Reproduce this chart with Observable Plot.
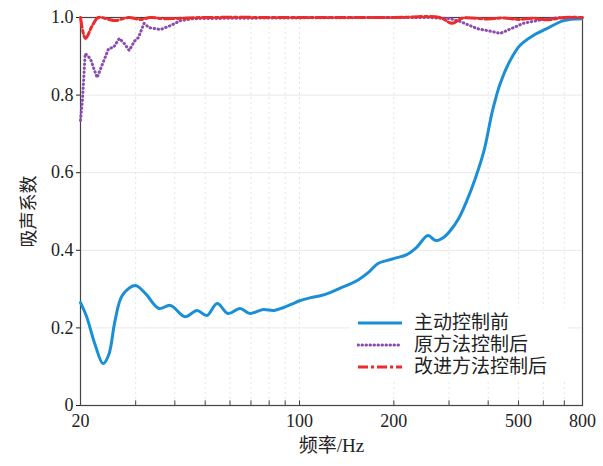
<!DOCTYPE html>
<html><head><meta charset="utf-8">
<script src="https://cdn.jsdelivr.net/npm/d3@7"></script>
<script src="https://cdn.jsdelivr.net/npm/@observablehq/plot@0.6"></script>
<style>
body{margin:0;background:#fff;}
#wrap{position:relative;width:603px;height:466px;}
#legend{position:absolute;left:350px;top:308px;width:218px;background:#fff;padding:4px 0;font-family:"Liberation Sans","Noto Sans CJK SC",sans-serif;font-size:19px;line-height:22px;color:#222;}
.row{display:flex;align-items:center;height:22px;line-height:22px;}
.row svg{margin-left:7px;margin-right:11px;}
.row span{display:block;height:22px;line-height:22px;}
</style></head>
<body><div id="wrap"></div>
<script>
// 主动控制前
const blueF = [20, 20.9, 22.3, 23.6, 24.6, 25.8, 27.2, 29.9, 32.2, 35.6, 38.7, 43.1, 47.1, 50.6, 54.6, 59.2, 64.6, 69.5, 76.1, 82.9, 88.6, 95, 100, 108.6, 116.5, 125.2, 134.3, 144.1, 154.7, 166, 178, 191, 205, 220, 236, 257, 272, 288, 303, 322, 342, 362, 388, 413, 437, 470, 505, 558, 618, 696, 796];
const blueV = [0.265, 0.23, 0.155, 0.108, 0.13, 0.22, 0.284, 0.309, 0.289, 0.25, 0.258, 0.229, 0.245, 0.232, 0.263, 0.237, 0.25, 0.237, 0.247, 0.245, 0.252, 0.262, 0.27, 0.278, 0.283, 0.291, 0.302, 0.312, 0.325, 0.343, 0.366, 0.374, 0.381, 0.389, 0.407, 0.438, 0.425, 0.433, 0.451, 0.482, 0.528, 0.58, 0.657, 0.76, 0.83, 0.889, 0.928, 0.954, 0.972, 0.992, 0.997];
// 原方法控制后
const purpleF = [20, 20.3, 20.7, 21.5, 22.6, 23.5, 24.6, 25.5, 26.6, 27.6, 28.6, 29.8, 30.6, 31.9, 33.1, 36, 38.7, 41.7, 45.8, 60, 100, 180, 256, 303, 325, 370, 400, 437, 482, 518, 588, 678, 800];
const purpleV = [0.735, 0.79, 0.907, 0.894, 0.845, 0.88, 0.92, 0.923, 0.946, 0.933, 0.915, 0.94, 0.948, 0.985, 0.974, 0.969, 0.979, 0.992, 0.997, 0.998, 0.999, 1.0, 1.0, 0.997, 0.99, 0.971, 0.966, 0.959, 0.974, 0.985, 0.994, 1.0, 1.0];
// 改进方法控制后
const redF = [20, 20.75, 21.8, 22.8, 24.4, 25.8, 28.5, 31.1, 33.4, 36.8, 50, 100, 200, 280, 307, 330, 400, 450, 500, 560, 620, 700, 800];
const redV = [1.0, 0.946, 0.979, 1.0, 0.996, 0.992, 1.0, 0.995, 1.0, 0.997, 1.0, 1.0, 1.0, 1.0, 0.985, 0.998, 0.996, 0.999, 0.995, 0.998, 0.994, 1.0, 1.0];

const seriesNames = ["主动控制前", "原方法控制后", "改进方法控制后"];
const xTitle = "频率/Hz";
const yTitle = "吸声系数";
const xTickLabels = [20, 100, 200, 500, 800];
const xMinor = [30, 40, 50, 60, 70, 80, 90, 100, 200, 300, 400, 500, 600, 700];
const xAllTicks = [20, 30, 40, 50, 60, 70, 80, 90, 100, 200, 300, 400, 500, 600, 700, 800];
const yTicks = [0, 0.2, 0.4, 0.6, 0.8, 1.0];
const yGrid = [0.2, 0.4, 0.6, 0.8];

const colors = ["#1a8fd5", "#8a4caf", "#ee2b2b"];
const toRows = (F, V) => F.map((f, i) => ({f, v: V[i]}));

const chart = Plot.plot({
  width: 603, height: 466,
  marginLeft: 80, marginRight: 21, marginTop: 17, marginBottom: 61,
  style: {fontFamily: "'Liberation Serif', 'Noto Sans CJK SC', serif", fontSize: "18px", color: "#222", background: "#fff", overflow: "visible"},
  x: {type: "log", domain: [20, 800], axis: null},
  y: {domain: [0, 1]},
  marks: [
    Plot.ruleY(yGrid, {stroke: "#e8e8e8", strokeWidth: 1}),
    Plot.ruleX(xMinor, {stroke: "#dfe5ec", strokeDasharray: "2,3", strokeWidth: 1}),
    Plot.ruleX(xAllTicks, {y1: 0, y2: 0.012, stroke: "#444"}),
    Plot.frame({stroke: "#444", strokeWidth: 1.2}),
    Plot.text(xTickLabels, {x: d => d, text: d => String(d), frameAnchor: "bottom", lineAnchor: "top", dy: 9, fontSize: 18}),
    Plot.text([xTitle], {text: d => d, frameAnchor: "bottom", lineAnchor: "top", dy: 33, fontSize: 19}),
    Plot.axisY({ticks: yTicks, tickFormat: d => d === 0 ? "0" : d.toFixed(1), tickSize: 4, tickPadding: 3,
      label: yTitle, labelAnchor: "center", labelOffset: 58, labelArrow: "none", fontSize: 18}),
    Plot.line(toRows(blueF, blueV), {x: "f", y: "v", stroke: colors[0], strokeWidth: 3, curve: "catmull-rom"}),
    Plot.line(toRows(purpleF, purpleV), {x: "f", y: "v", stroke: colors[1], strokeWidth: 3, strokeDasharray: "0.5,3.5", strokeLinecap: "round"}),
    Plot.line(toRows(redF, redV), {x: "f", y: "v", stroke: colors[2], strokeWidth: 3, strokeDasharray: "10,3,3,3", curve: "catmull-rom"})
  ]
});
const wrap = document.getElementById("wrap");
wrap.appendChild(chart);

const leg = document.createElement("div");
leg.id = "legend";
const dashes = [null, "0.5,3.5", "10,3,3,3"];
seriesNames.forEach((name, i) => {
  const row = document.createElement("div");
  row.className = "row";
  row.innerHTML = `<svg width="46" height="10"><line x1="1" y1="5" x2="45" y2="5" stroke="${colors[i]}" stroke-width="3" ${dashes[i] ? `stroke-dasharray="${dashes[i]}" stroke-linecap="${i===1?'round':'butt'}"` : ""}/></svg><span>${name}</span>`;
  leg.appendChild(row);
});
wrap.appendChild(leg);
</script>
</body></html>
